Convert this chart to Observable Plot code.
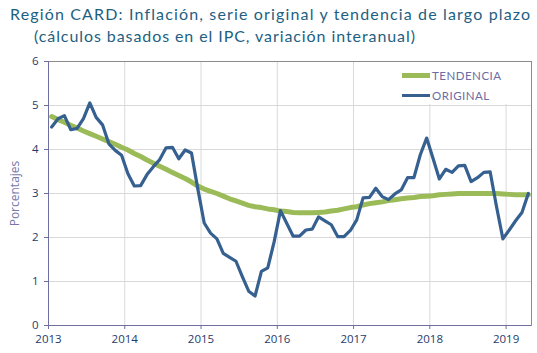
<!DOCTYPE html>
<html><head><meta charset="utf-8">
<script src="https://cdn.jsdelivr.net/npm/d3@7"></script>
<script src="https://cdn.jsdelivr.net/npm/@observablehq/plot@0.6"></script>
<style>
body{margin:0;background:#fff;width:537px;height:353px;overflow:hidden;position:relative;font-family:Lato,"Open Sans",sans-serif}
#t1{position:absolute;left:10px;top:4px;font-size:16px;color:#1E5F82;white-space:nowrap;letter-spacing:1.15px}
#t2{position:absolute;left:34px;top:26px;font-size:16px;color:#1E5F82;white-space:nowrap;letter-spacing:0.92px}
#chart{position:absolute;left:0;top:50px}
#legend{position:absolute;left:392px;top:62px;width:132px;height:42px;background:#fff;font-size:11.5px;color:#6C6CA3;letter-spacing:0.5px}
.item{position:absolute;left:10px;display:flex;align-items:center;white-space:nowrap}
.sw{width:28px;margin-right:2px}
</style></head>
<body>
<div id="t1">Región CARD: Inflación, serie original y tendencia de largo plazo</div>
<div id="t2">(cálculos basados en el IPC, variación interanual)</div>
<div id="chart"></div>
<div id="legend"></div>
<script>
const years = [2013, 2014, 2015, 2016, 2017, 2018, 2019];
const yTicks = [0, 1, 2, 3, 4, 5, 6];
const seriesNames = ["TENDENCIA", "ORIGINAL"];
const seriesColors = ["#9BBB59", "#35608F"];
// monthly values, Jan 2013 .. Apr 2019
const original = [
  4.51, 4.70, 4.77, 4.45, 4.48, 4.70, 5.06, 4.73, 4.56, 4.13, 3.98, 3.87,
  3.45, 3.17, 3.18, 3.43, 3.61, 3.77, 4.04, 4.05, 3.79, 3.99, 3.92, 3.10,
  2.33, 2.10, 1.97, 1.64, 1.55, 1.46, 1.11, 0.78, 0.67, 1.23, 1.31, 1.90,
  2.61, 2.32, 2.03, 2.03, 2.17, 2.19, 2.47, 2.38, 2.29, 2.02, 2.02, 2.16,
  2.40, 2.90, 2.91, 3.12, 2.93, 2.86, 2.99, 3.08, 3.36, 3.36, 3.88, 4.26,
  3.80, 3.33, 3.55, 3.48, 3.63, 3.64, 3.27, 3.36, 3.48, 3.49, 2.70, 1.97,
  2.17, 2.38, 2.57, 3.00
];
const tendencia = [
  4.75, 4.68, 4.62, 4.55, 4.49, 4.42, 4.36, 4.30, 4.24, 4.18, 4.12, 4.05,
  3.99, 3.91, 3.84, 3.76, 3.69, 3.62, 3.55, 3.48, 3.41, 3.34, 3.26, 3.17,
  3.10, 3.05, 3.00, 2.94, 2.88, 2.83, 2.78, 2.73, 2.70, 2.68, 2.65, 2.63,
  2.60, 2.59, 2.57, 2.56, 2.56, 2.56, 2.57, 2.58, 2.60, 2.62, 2.65, 2.68,
  2.70, 2.74, 2.77, 2.79, 2.81, 2.84, 2.86, 2.88, 2.90, 2.91, 2.93, 2.94,
  2.95, 2.97, 2.98, 2.99, 3.00, 3.00, 3.00, 3.00, 3.00, 3.00, 3.00, 2.99,
  2.98, 2.97, 2.97, 2.97
];
const startYear = 2013;
const toRows = arr => arr.map((v, i) => ({date: startYear + (i + 0.5) / 12, v}));

const plot = Plot.plot({
  width: 537, height: 303,
  marginLeft: 48, marginRight: 6, marginTop: 11, marginBottom: 28,
  x: {domain: [2013, 2019 + 4 / 12]},
  y: {domain: [0, 6]},
  style: {fontFamily: "'Open Sans', sans-serif", fontSize: "11.5px", background: "white"},
  marks: [
    Plot.gridX(years, {stroke: "#D9D9D9", strokeOpacity: 1}),
    Plot.gridY(yTicks, {stroke: "#D9D9D9", strokeOpacity: 1}),
    Plot.frame({stroke: "#8C8C8C"}),
    Plot.lineY(toRows(tendencia), {x: "date", y: "v", stroke: seriesColors[0], strokeWidth: 5}),
    Plot.lineY(toRows(original), {x: "date", y: "v", stroke: seriesColors[1], strokeWidth: 3.2}),
    Plot.axisY(yTicks, {tickSize: 4, tickPadding: 6, stroke: "#6E6EA0", fill: "#1F3B6B",
      label: "Porcentajes", labelAnchor: "center", labelArrow: "none", labelOffset: 38}),
    Plot.axisX(years, {tickSize: 4, tickPadding: 5, stroke: "#6E6EA0", fill: "#1F3B6B",
      tickFormat: d => String(d), label: null}),
    Plot.ruleX([2013], {stroke: "#6E6EA0"}),
    Plot.ruleY([0], {stroke: "#6E6EA0"})
  ]
});
d3.select(plot).selectAll("[aria-label='y-axis label'] text")
  .attr("fill", "#7777AA").attr("font-size", "12px");
document.getElementById("chart").appendChild(plot);

const legend = document.getElementById("legend");
seriesNames.forEach((name, k) => {
  const it = document.createElement("div");
  it.className = "item";
  it.style.top = (k === 0 ? 7 : 27) + "px";
  const sw = document.createElement("div");
  sw.className = "sw";
  sw.style.height = (k === 0 ? 5 : 3.5) + "px";
  sw.style.background = seriesColors[k];
  const tx = document.createElement("span");
  tx.textContent = name;
  it.appendChild(sw); it.appendChild(tx);
  legend.appendChild(it);
});
</script>
</body></html>
